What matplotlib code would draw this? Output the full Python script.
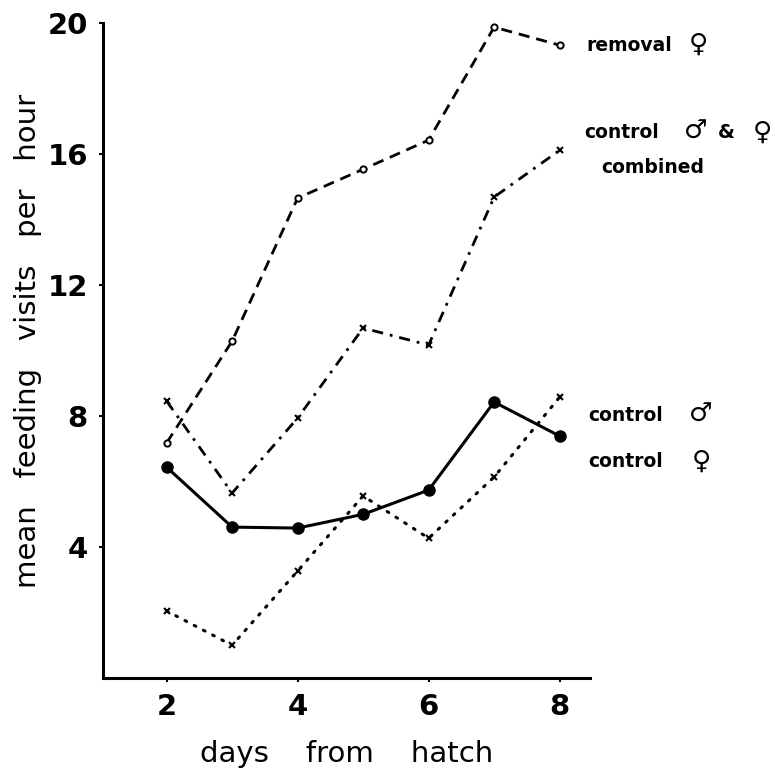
import matplotlib
matplotlib.use("Agg")
import matplotlib.pyplot as plt

days = [2, 3, 4, 5, 6, 7, 8]
removal_female = [7.18, 10.29, 14.66, 15.54, 16.43, 19.88, 19.33]
control_combined = [8.46, 5.65, 7.94, 10.69, 10.17, 14.69, 16.12]
control_female = [6.44, 4.61, 4.58, 5.0, 5.74, 8.43, 7.39]
control_male = [2.05, 1.0, 3.27, 5.56, 4.27, 6.14, 8.58]
xticks = [2, 4, 6, 8]
yticks = [4, 8, 12, 16, 20]

plt.rcParams['font.family'] = ['DejaVu Sans']
fig = plt.figure(figsize=(7.75, 7.74), dpi=100)
ax = fig.add_axes([0.133, 0.124, 0.628, 0.846])

ax.plot(days, removal_female, color='black', lw=2.0, ls=(0, (4, 2.5)),
        marker='o', ms=4.5, mfc='white', mec='black', mew=1.4)
ax.plot(days, control_combined, color='black', lw=2.0, ls=(0, (4, 2.5, 1, 2.5)),
        marker='x', ms=5, mew=1.5)
ax.plot(days, control_female, color='black', lw=2.2, ls='-',
        marker='o', ms=8, mfc='black', mec='black')
ax.plot(days, control_male, color='black', lw=2.2, ls=(0, (0.6, 2.8)),
        dash_capstyle='round', marker='x', ms=5, mew=1.5)

ax.set_xlim(1.03, 8.46)
ax.set_ylim(0, 20)
ax.set_xticks(xticks)
ax.set_yticks(yticks)
ax.tick_params(labelsize=21, length=3, width=1.5, pad=8)
for lab in ax.get_xticklabels() + ax.get_yticklabels():
    lab.set_fontweight('bold')
for s in ['top', 'right']:
    ax.spines[s].set_visible(False)
for s in ['left', 'bottom']:
    ax.spines[s].set_linewidth(2.2)

ax.set_xlabel('days    from    hatch', fontsize=21)
ax.xaxis.set_label_coords(0.5, -0.095)
ax.set_ylabel('mean   feeding   visits   per   hour', fontsize=21)
ax.yaxis.set_label_coords(-0.125, 0.515)

tkw = dict(fontsize=13.5, fontweight='bold', clip_on=False, va='center', ha='left')
skw = dict(fontsize=19, clip_on=False, va='center', ha='center')
ax.text(8.41, 19.33, 'removal', **tkw)
ax.text(10.12, 19.33, '\u2640', **skw)
ax.text(8.37, 16.67, 'control', **tkw)
ax.text(10.08, 16.67, '\u2642', **skw)
ax.text(10.55, 16.67, '&', fontsize=14, fontweight='bold', clip_on=False,
        va='center', ha='center')
ax.text(11.10, 16.67, '\u2640', **skw)
ax.text(8.64, 15.6, 'combined', **tkw)
ax.text(8.44, 8.03, 'control', **tkw)
ax.text(10.16, 8.03, '\u2642', **skw)
ax.text(8.44, 6.6, 'control', **tkw)
ax.text(10.16, 6.6, '\u2640', **skw)

fig.savefig('out.png', dpi=100)
